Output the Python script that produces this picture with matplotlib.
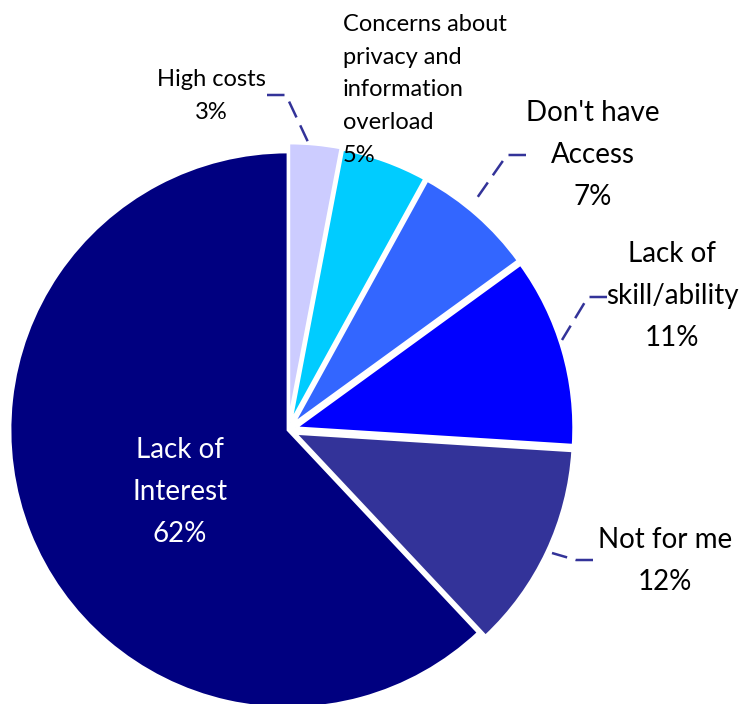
import matplotlib
matplotlib.use("Agg")
import matplotlib.pyplot as plt

# reasons for not using (share of respondents, %)
categories = ["High costs", "Concerns about\nprivacy and\ninformation\noverload",
              "Don't have\nAccess", "Lack of\nskill/ability", "Not for me",
              "Lack of\nInterest"]
shares = [3, 5, 7, 11, 12, 62]
colors = ["#CCCCFF", "#00CCFF", "#3366FF", "#0000FF", "#333399", "#000080"]

W, H = 748, 704
plt.rcParams["font.family"] = ["Lato", "DejaVu Sans"]

fig = plt.figure(figsize=(W / 100, H / 100), dpi=100)
ax = fig.add_axes([0, 0, 1, 1])

cx, cy, r = 288, H - 430, 278
explode = [9, 8, 8, 8, 8, 0]
ax.pie(shares, colors=colors, startangle=90, counterclock=False,
       radius=r, center=(cx, cy), explode=explode, frame=True,
       wedgeprops=dict(edgecolor="white", linewidth=2.0))
ax.set_xlim(0, W)
ax.set_ylim(0, H)
ax.axis("off")


def py(y):
    return H - y


def label(i, x, y, size, ha="center", color="black", spacing=1.75):
    ax.text(x, py(y), f"{categories[i]}\n{shares[i]}%", ha=ha, va="center",
            fontsize=size, color=color, linespacing=spacing)


def leader(pts):
    xs = [p[0] for p in pts]
    ys = [py(p[1]) for p in pts]
    ax.plot(xs, ys, color="#333399", lw=1.8, linestyle=(0, (7, 3.5)),
            solid_capstyle="butt")


label(0, 211, 96, 17, spacing=1.7)
label(1, 343, 90, 17, ha="left", spacing=1.7)
label(2, 593, 155, 20)
label(3, 672, 296, 20)
label(4, 665, 561, 20)
label(5, 180, 492, 20, color="white")

leader([(267, 95), (286, 95), (308, 142)])
leader([(526, 155), (507, 155), (477, 198)])
leader([(607, 297), (588, 297), (562, 340)])
leader([(593, 560), (576, 560), (552, 553)])

fig.savefig("out.png", dpi=100)
